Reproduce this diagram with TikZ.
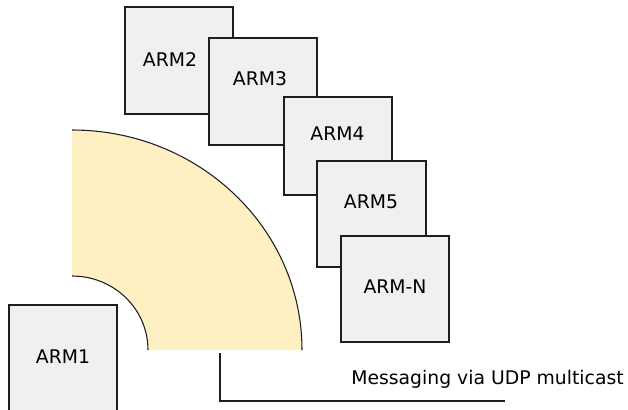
\documentclass[tikz,border=0pt]{standalone}
\usepackage{fontspec}
\setmainfont{DejaVu Sans}
\usepackage{tikz}

\definecolor{boxgray}{HTML}{F0F0F0}
\definecolor{lineblack}{HTML}{1E1E1E}
\definecolor{busyellow}{HTML}{FFF0C4}

\tikzset{
	armbox/.style={draw=lineblack, fill=boxgray, line width=1.2pt, inner sep=0pt, minimum width=81pt},
	armtext/.style={inner sep=0pt, font=\fontsize{14.1}{16}\selectfont},
}

\begin{document}
\begin{tikzpicture}[x=0.75pt, y=-0.75pt]
				\useasboundingbox (0, 0) rectangle (628, 410);
				% the multicast bus, a quarter ring
				\fill[busyellow] (72, 130) .. controls (199, 130) and (302, 228.5) .. (302, 350)
					-- (148, 350) .. controls (148, 309) and (114, 276) .. (72, 276) -- cycle;
				\draw[lineblack, line width=0.8pt] (72, 130) .. controls (199, 130) and (302, 228.5) .. (302, 350);
				\draw[lineblack, line width=0.8pt] (72, 276) .. controls (114, 276) and (148, 309) .. (148, 350);
				% boards, drawn back to front
				\node[armbox, minimum height=86.25pt] (arm1) at (63, 362.5) {};
				\node[armbox, minimum height=80.25pt] (arm2) at (179, 60.5) {};
				\node[armbox, minimum height=80.25pt] (arm3) at (263, 91.5) {};
				\node[armbox, minimum height=73.5pt] (arm4) at (338, 146) {};
				\node[armbox, minimum height=79.5pt, minimum width=81.75pt] (arm5) at (371.5, 214) {};
				\node[armbox, minimum height=79.5pt] (armn) at (395, 289) {};
				\node[armtext] (arm1txt) at (63, 357) {ARM1};
				\node[armtext] (arm2txt) at (170, 60) {ARM2};
				\node[armtext] (arm3txt) at (260, 79) {ARM3};
				\node[armtext] (arm4txt) at (337.5, 134) {ARM4};
				\node[armtext] (arm5txt) at (371, 202) {ARM5};
				\node[armtext] (armntxt) at (395, 287) {ARM-N};
				% callout for the bus
				\coordinate (busfoot) at (220, 353);
				\coordinate (callend) at (505, 401);
				\draw[lineblack, line width=0.9pt] (busfoot) |- (callend);
				\node[armtext] (busnote) at (487.5, 379) {Messaging via UDP multicast};
			\end{tikzpicture}
\end{document}
